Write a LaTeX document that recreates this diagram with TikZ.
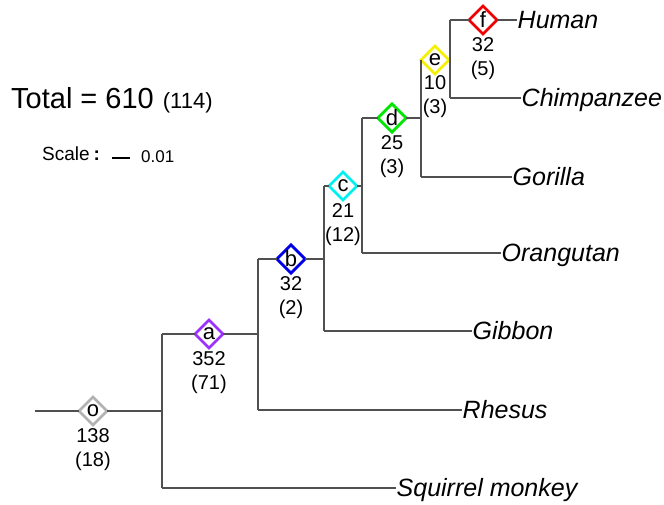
\documentclass[tikz,border=0pt]{standalone}
\usepackage{fontspec}
\setmainfont{Liberation Sans}
\usetikzlibrary{shapes.geometric}
\definecolor{brgray}{RGB}{80,80,80}
\definecolor{cO}{RGB}{178,178,178}
\definecolor{cA}{RGB}{155,48,255}
\definecolor{cB}{RGB}{0,0,230}
\definecolor{cC}{RGB}{0,240,240}
\definecolor{cD}{RGB}{0,230,0}
\definecolor{cE}{RGB}{245,240,0}
\definecolor{cF}{RGB}{240,0,0}
\begin{document}
\begin{tikzpicture}[x=1pt,y=-1pt,
  branch/.style={draw=brgray, line width=1.4pt},
  nodemark/.style={diamond, draw=#1, fill=white, line width=2.8pt, inner sep=0pt,
    minimum width=28pt, minimum height=28pt, outer sep=0pt,
    font=\fontsize{22}{22}\selectfont},
  numlab/.style={inner sep=0pt, font=\fontsize{20}{20}\selectfont},
  species/.style={anchor=west, inner sep=0.5pt, text height=17.5pt, text depth=0pt,
    font=\fontsize{25}{25}\selectfont\itshape},
]
\useasboundingbox (0,0) rectangle (664,504);

% junction coordinates
\coordinate (r0) at (35,411);
\coordinate (n0) at (162,411);
\coordinate (n0t) at (162,334);
\coordinate (n0b) at (162,488);
\coordinate (nat) at (258,259);
\coordinate (nam) at (258,334);
\coordinate (nab) at (258,410);
\coordinate (nbt) at (324,186);
\coordinate (nbm) at (324,259);
\coordinate (nbb) at (324,331);
\coordinate (nct) at (362,118);
\coordinate (ncm) at (362,186);
\coordinate (ncb) at (362,253);
\coordinate (ndt) at (421,60);
\coordinate (ndm) at (421,118);
\coordinate (ndb) at (421,177);
\coordinate (net) at (450,20);
\coordinate (nem) at (450,60);
\coordinate (neb) at (450,98);

% node diamonds
\node[nodemark=cO] (o) at (93,411) {o};
\node[nodemark=cA] (a) at (209,334) {a};
\node[nodemark=cB] (b) at (291,259) {b};
\node[nodemark=cC] (c) at (343,186) {c};
\node[nodemark=cD] (d) at (392,118) {d};
\node[nodemark=cE] (e) at (435,60) {e};
\node[nodemark=cF] (f) at (483,20) {f};

% numbers under diamonds
\node[numlab] (o1) at (93,436) {138};
\node[numlab] (o2) at (93,461) {(18)};
\node[numlab] (a1) at (209,359) {352};
\node[numlab] (a2) at (209,384) {(71)};
\node[numlab] (b1) at (291,284) {32};
\node[numlab] (b2) at (291,309) {(2)};
\node[numlab] (c1) at (343,211) {21};
\node[numlab] (c2) at (343,236) {(12)};
\node[numlab] (d1) at (392,143) {25};
\node[numlab] (d2) at (392,168) {(3)};
\node[numlab] (e1) at (435,83) {10};
\node[numlab] (e2) at (435,108) {(3)};
\node[numlab] (f1) at (483,45) {32};
\node[numlab] (f2) at (483,70) {(5)};

% species labels
\node[species] (hum) at (517,20) {Human};
\node[species] (chi) at (521,98) {Chimpanzee};
\node[species] (gor) at (512,177) {Gorilla};
\node[species] (ora) at (501,253) {Orangutan};
\node[species] (gib) at (472,331) {Gibbon};
\node[species] (rhe) at (462,410) {Rhesus};
\node[species] (squ) at (396,488) {Squirrel monkey};

% branches
\draw[branch] (r0) -- (o.west);
\draw[branch] (o.east) -- (n0);
\draw[branch] (n0t) -- (n0b);
\draw[branch] (n0t) -- (a.west);
\draw[branch] (a.east) -- (nam);
\draw[branch] (n0b) -- (squ.west);
\draw[branch] (nat) -- (nab);
\draw[branch] (nat) -- (b.west);
\draw[branch] (b.east) -- (nbm);
\draw[branch] (nab) -- (rhe.west);
\draw[branch] (nbt) -- (nbb);
\draw[branch] (nbt) -- (c.west);
\draw[branch] (c.east) -- (ncm);
\draw[branch] (nbb) -- (gib.west);
\draw[branch] (nct) -- (ncb);
\draw[branch] (nct) -- (d.west);
\draw[branch] (d.east) -- (ndm);
\draw[branch] (ncb) -- (ora.west);
\draw[branch] (ndt) -- (ndb);
\draw[branch] (ndt) -- (e.west);
\draw[branch] (e.east) -- (nem);
\draw[branch] (ndb) -- (gor.west);
\draw[branch] (net) -- (neb);
\draw[branch] (net) -- (f.west);
\draw[branch] (f.east) -- (hum.west);
\draw[branch] (neb) -- (chi.west);

% total and scale
\node[anchor=base west, inner sep=0pt] (total) at (11,108)
  {\fontsize{29}{29}\selectfont Total = 610\hspace{9pt}\fontsize{22}{22}\selectfont(114)};
\node[anchor=base west, inner sep=0pt, font=\fontsize{19}{19}\selectfont] (scale) at (42,160)
  {Scale\hspace{4pt}\textbf{:}};
\coordinate (sb0) at (112,158);
\coordinate (sb1) at (130,158);
\draw[line width=2.2pt] (sb0) -- (sb1);
\node[anchor=base west, inner sep=0pt, font=\fontsize{17}{17}\selectfont] (sval) at (141,162) {0.01};
\end{tikzpicture}
\end{document}
